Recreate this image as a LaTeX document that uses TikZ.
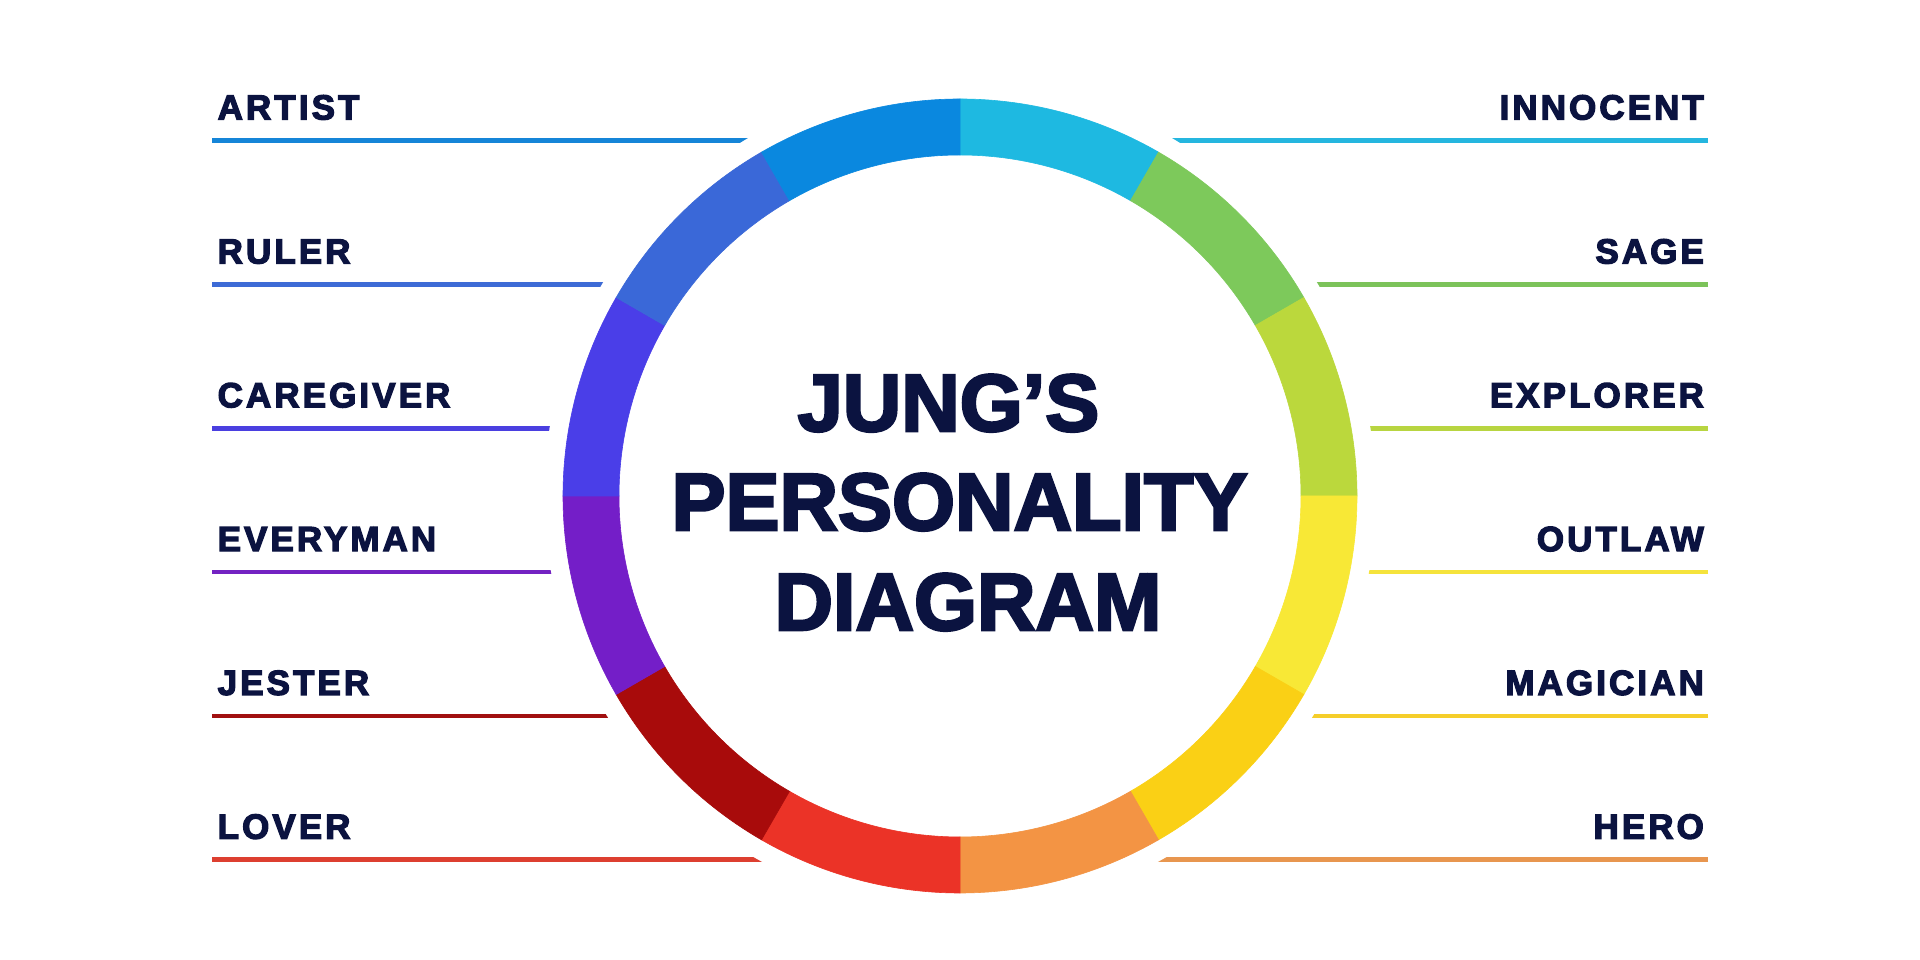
\documentclass[tikz,border=0pt]{standalone}
\usepackage{fontspec}
\newfontfamily\titlefont{Liberation Sans Bold}
\newfontfamily\labelfont[LetterSpace=9]{Liberation Sans Bold}
\newcommand\strokedtext[2]{\special{pdf:literal direct #1 w 2 Tr}#2\special{pdf:literal direct 0 Tr}}
\definecolor{navy}{HTML}{0B1340}
% segment colours
\definecolor{cInnocent}{HTML}{1EB9E1}
\definecolor{cSage}{HTML}{7DC95B}
\definecolor{cExplorer}{HTML}{BBD83C}
\definecolor{cOutlaw}{HTML}{F8E836}
\definecolor{cMagician}{HTML}{FAD015}
\definecolor{cHero}{HTML}{F39444}
\definecolor{cLover}{HTML}{EB3327}
\definecolor{cJester}{HTML}{A80B0B}
\definecolor{cEveryman}{HTML}{741EC8}
\definecolor{cCaregiver}{HTML}{4A3EE8}
\definecolor{cRuler}{HTML}{3A68D8}
\definecolor{cArtist}{HTML}{0A88DF}
% underline colours
\definecolor{lInnocent}{HTML}{25B6DF}
\definecolor{lSage}{HTML}{7CC35A}
\definecolor{lExplorer}{HTML}{B8D541}
\definecolor{lOutlaw}{HTML}{F5E33C}
\definecolor{lMagician}{HTML}{F5CE2A}
\definecolor{lHero}{HTML}{E8964F}
\definecolor{lLover}{HTML}{DD3F30}
\definecolor{lJester}{HTML}{A11010}
\definecolor{lEveryman}{HTML}{7322C2}
\definecolor{lCaregiver}{HTML}{4A3FE0}
\definecolor{lRuler}{HTML}{3D6BD6}
\definecolor{lArtist}{HTML}{1585D8}
\tikzset{
  lbl/.style={inner sep=0pt, text=navy, font=\labelfont\fontsize{34.9}{36}\selectfont},
  ttl/.style={inner sep=0pt, text=navy, anchor=base, font=\titlefont\fontsize{81}{81}\selectfont},
  uline/.style={line width=4.5pt},
}
\begin{document}
\begin{tikzpicture}[x=1pt,y=1pt]
\useasboundingbox (0,0) rectangle (1920,960);
\fill[white] (0,0) rectangle (1920,960);
\coordinate (c) at (960,464);
% ring segments
\foreach \a/\col in {90/cInnocent,60/cSage,30/cExplorer,0/cOutlaw,-30/cMagician,-60/cHero,-90/cLover,-120/cJester,-150/cEveryman,-180/cCaregiver,-210/cRuler,-240/cArtist}{
  \pgfmathsetmacro{\b}{\a-30}
  \fill[\col, draw=\col, line width=0.6pt] ([shift={(\a:397)}]c) arc[start angle=\a, end angle=\b, radius=397]
     -- ([shift={(\b:341)}]c) arc[start angle=\b, end angle=\a, radius=341] -- cycle;
}
% underlines, cut by a circle round the ring
\begin{scope}[even odd rule]
\clip (0,0) rectangle (1920,960) (c) circle (416);
\foreach \n/\y/\col in {artist/819.3/lArtist, ruler/675.5/lRuler, caregiver/531.7/lCaregiver, everyman/387.9/lEveryman, jester/244.1/lJester, lover/100.3/lLover}{
  \coordinate (\n-a) at (212,\y);
  \coordinate (\n-b) at (960,\y);
  \draw[uline, \col] (\n-a) -- (\n-b);
}
\foreach \n/\y/\col in {innocent/819.3/lInnocent, sage/675.5/lSage, explorer/531.7/lExplorer, outlaw/387.9/lOutlaw, magician/244.1/lMagician, hero/100.3/lHero}{
  \coordinate (\n-a) at (1708,\y);
  \coordinate (\n-b) at (960,\y);
  \draw[uline, \col] (\n-a) -- (\n-b);
}
\end{scope}
% labels
\node[lbl, anchor=base west] (artist) at (217.5,840.5) {\strokedtext{1.3}{ARTIST}};
\node[lbl, anchor=base west] (ruler) at (217.5,696.5) {\strokedtext{1.3}{RULER}};
\node[lbl, anchor=base west] (caregiver) at (217.5,552.7) {\strokedtext{1.3}{CAREGIVER}};
\node[lbl, anchor=base west] (everyman) at (217.5,408.9) {\strokedtext{1.3}{EVERYMAN}};
\node[lbl, anchor=base west] (jester) at (217.5,265.1) {\strokedtext{1.3}{JESTER}};
\node[lbl, anchor=base west] (lover) at (217.5,121.3) {\strokedtext{1.3}{LOVER}};
\node[lbl, anchor=base east] (innocent) at (1704,840.5) {\strokedtext{1.3}{INNOCENT}};
\node[lbl, anchor=base east] (sage) at (1704,696.5) {\strokedtext{1.3}{SAGE}};
\node[lbl, anchor=base east] (explorer) at (1704,552.7) {\strokedtext{1.3}{EXPLORER}};
\node[lbl, anchor=base east] (outlaw) at (1704,408.9) {\strokedtext{1.3}{OUTLAW}};
\node[lbl, anchor=base east] (magician) at (1704,265.1) {\strokedtext{1.3}{MAGICIAN}};
\node[lbl, anchor=base east] (hero) at (1704,121.3) {\strokedtext{1.3}{HERO}};
% title
\node[ttl] (t1) at (948.5,529) {\strokedtext{2.6}{JUNG’S}};
\node[ttl] (t2) at (959.5,430) {\strokedtext{2.6}{PERSONALITY}};
\node[ttl] (t3) at (968,330) {\strokedtext{2.6}{DIAGRAM}};
\end{tikzpicture}
\end{document}
